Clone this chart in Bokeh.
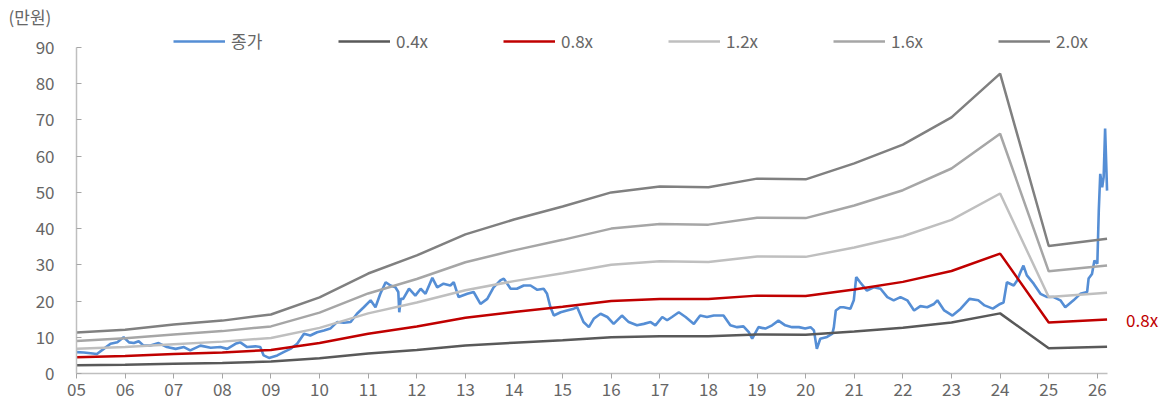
from bokeh.plotting import figure
from bokeh.models import Range1d, Legend, LegendItem, Label, FixedTicker
from bokeh.embed import file_html
from bokeh.resources import INLINE

# ---- data ----
band_years = [2005, 2006, 2007, 2008, 2009, 2010, 2011, 2012, 2013, 2014, 2015,
              2016, 2017, 2018, 2019, 2020, 2021, 2022, 2023, 2024, 2025, 2026.2]
band_04 = [2.3, 2.4, 2.7, 2.9, 3.3, 4.2, 5.5, 6.5, 7.7, 8.5, 9.2, 10.0, 10.3, 10.3, 10.8, 10.7, 11.6, 12.6, 14.1, 16.6, 7.0, 7.4]
band_08 = [4.5, 4.8, 5.4, 5.8, 6.5, 8.4, 11.0, 13.0, 15.4, 17.0, 18.4, 20.0, 20.6, 20.6, 21.5, 21.4, 23.2, 25.3, 28.3, 33.1, 14.1, 14.9]
band_12 = [6.8, 7.3, 8.1, 8.8, 9.8, 12.6, 16.6, 19.6, 23.0, 25.5, 27.7, 30.0, 31.0, 30.8, 32.3, 32.2, 34.8, 37.9, 42.4, 49.7, 21.1, 22.3]
band_16 = [9.0, 9.7, 10.8, 11.7, 13.0, 16.8, 22.1, 26.1, 30.7, 34.0, 36.9, 40.0, 41.3, 41.1, 43.0, 42.9, 46.4, 50.6, 56.6, 66.2, 28.2, 29.8]
band_20 = [11.3, 12.1, 13.5, 14.6, 16.3, 21.0, 27.6, 32.6, 38.4, 42.5, 46.1, 50.0, 51.6, 51.4, 53.8, 53.6, 58.0, 63.2, 70.7, 82.8, 35.2, 37.2]

price_t = [2005.00, 2005.15, 2005.29, 2005.42, 2005.56, 2005.70, 2005.84, 2005.97,
           2006.08, 2006.18, 2006.28, 2006.38, 2006.52, 2006.69, 2006.86,
           2007.04, 2007.21, 2007.34, 2007.55, 2007.76, 2007.96,
           2008.10, 2008.27, 2008.37, 2008.51, 2008.68, 2008.78, 2008.85, 2008.96,
           2009.13, 2009.26, 2009.40, 2009.54, 2009.68, 2009.81, 2009.95,
           2010.09, 2010.22, 2010.36, 2010.50, 2010.64, 2010.77, 2010.91,
           2011.05, 2011.15, 2011.25, 2011.36, 2011.46, 2011.56, 2011.62, 2011.64, 2011.67, 2011.72, 2011.84, 2011.97,
           2012.08, 2012.18, 2012.32, 2012.42, 2012.55, 2012.69, 2012.76, 2012.86,
           2013.04, 2013.17, 2013.31, 2013.45, 2013.58, 2013.72, 2013.79, 2013.93,
           2014.06, 2014.20, 2014.34, 2014.48, 2014.61, 2014.68, 2014.75, 2014.82, 2014.96,
           2015.09, 2015.23, 2015.30, 2015.43, 2015.54, 2015.64, 2015.78, 2015.92,
           2016.05, 2016.22, 2016.36, 2016.53, 2016.67, 2016.81, 2016.91,
           2017.05, 2017.15, 2017.25, 2017.39, 2017.53, 2017.70, 2017.83, 2017.97,
           2018.11, 2018.31, 2018.45, 2018.59, 2018.72, 2018.83, 2018.90,
           2019.03, 2019.17, 2019.31, 2019.44, 2019.58, 2019.72, 2019.86, 2019.99,
           2020.10, 2020.17, 2020.23, 2020.30, 2020.44, 2020.55, 2020.58, 2020.62, 2020.71, 2020.78, 2020.92, 2020.99,
           2021.04, 2021.12, 2021.26, 2021.40, 2021.54, 2021.68, 2021.81, 2021.95,
           2022.09, 2022.23, 2022.36, 2022.50, 2022.64, 2022.71, 2022.85,
           2023.02, 2023.19, 2023.37, 2023.55, 2023.68, 2023.85,
           2024.00, 2024.07, 2024.14, 2024.28, 2024.35, 2024.42, 2024.48, 2024.55, 2024.69, 2024.83, 2024.97,
           2025.10, 2025.24, 2025.34, 2025.51, 2025.65, 2025.79, 2025.82, 2025.89, 2025.94,
           2026.00, 2026.03, 2026.06, 2026.10, 2026.13, 2026.16, 2026.20]
price_v = [5.9, 5.8, 5.6, 5.4, 6.8, 8.2, 8.6, 10.0,
           8.6, 8.4, 8.9, 7.7, 7.7, 8.4, 7.3,
           6.8, 7.3, 6.4, 7.7, 7.1, 7.3,
           6.8, 8.2, 8.6, 7.3, 7.5, 7.3, 5.0, 4.3,
           5.0, 5.9, 6.8, 8.2, 11.0, 10.5, 11.4,
           11.9, 12.4, 14.2, 14.0, 14.2, 16.5, 18.3,
           20.2, 18.3, 22.0, 25.2, 24.3, 23.8, 22.5, 16.9, 20.6, 20.6, 23.4, 21.5,
           23.4, 22.0, 26.4, 23.8, 24.8, 24.3, 25.2, 21.1,
           22.0, 22.5, 19.2, 20.6, 23.8, 25.7, 26.2, 23.4,
           23.4, 24.3, 24.3, 23.1, 23.4, 22.0, 18.3, 16.0, 16.9,
           17.4, 17.9, 18.3, 14.2, 12.8, 15.1, 16.5, 15.6,
           13.7, 16.0, 14.2, 13.3, 13.7, 14.2, 13.3,
           15.6, 14.7, 15.6, 16.9, 15.6, 13.7, 16.0, 15.6,
           16.0, 16.0, 13.3, 12.8, 13.0, 11.4, 9.6,
           12.8, 12.4, 13.3, 14.6, 13.3, 12.8, 12.8, 12.4,
           12.8, 11.9, 6.8, 9.6, 10.1, 11.0, 12.8, 17.4, 18.3, 18.3, 17.9, 20.2,
           26.6, 25.2, 22.9, 23.8, 23.4, 21.1, 20.2, 21.1,
           20.2, 17.4, 18.6, 18.3, 19.2, 20.2, 17.4,
           16.0, 17.9, 20.6, 20.2, 18.8, 17.9,
           19.2, 19.6, 25.2, 24.3, 25.7, 28.0, 29.8, 27.1, 24.8, 22.0, 21.1,
           21.1, 20.2, 18.3, 20.2, 22.0, 22.5, 26.2, 27.5, 31.2,
           30.3, 45.0, 55.1, 51.4, 54.2, 67.6, 50.5]

x_ticks = list(range(2005, 2027))
x_tick_labels = ["05", "06", "07", "08", "09", "10", "11", "12", "13", "14", "15",
                 "16", "17", "18", "19", "20", "21", "22", "23", "24", "25", "26"]
y_ticks = [0, 10, 20, 30, 40, 50, 60, 70, 80, 90]
x_axis_end = 2026.21

FONT = "Noto Sans CJK KR"
TXT = "#666666"

p = figure(width=1161, height=403, output_backend="svg", toolbar_location=None,
           x_range=Range1d(2005, 2027.32), y_range=Range1d(0, 95.25),
           title="(만원)",
           min_border_left=76, min_border_right=0, min_border_top=28, min_border_bottom=30)
p.frame_width = 1085
p.frame_height = 345
p.outline_line_color = None
p.xgrid.visible = False
p.ygrid.visible = False
p.background_fill_color = "white"

p.title.text_font = FONT
p.title.text_font_size = "17px"
p.title.text_font_style = "normal"
p.title.text_color = TXT
p.title.align = "left"
p.title.offset = -68
p.title.standoff = 0

r_price = p.line(price_t, price_v, line_color="#558ed5", line_width=2.6)
r04 = p.line(band_years, band_04, line_color="#595959", line_width=2.5)
r08 = p.line(band_years, band_08, line_color="#c00000", line_width=2.5)
r12 = p.line(band_years, band_12, line_color="#bfbfbf", line_width=2.5)
r16 = p.line(band_years, band_16, line_color="#a6a6a6", line_width=2.5)
r20 = p.line(band_years, band_20, line_color="#808080", line_width=2.5)

# axes
xa = p.xaxis[0]
xa.ticker = FixedTicker(ticks=x_ticks)
xa.bounds = (2005, x_axis_end)
xa.major_label_overrides = {t: l for t, l in zip(x_ticks, x_tick_labels)}
xa.axis_line_color = "#bfbfbf"
xa.axis_line_width = 1.5
xa.major_tick_line_color = "#a6a6a6"
xa.major_tick_in = 0
xa.major_tick_out = 5
xa.minor_tick_line_color = None
xa.major_label_standoff = 4
xa.major_label_text_font = FONT
xa.major_label_text_font_size = "17px"
xa.major_label_text_color = TXT

ya = p.yaxis[0]
ya.ticker = FixedTicker(ticks=y_ticks)
ya.bounds = (0, 90)
ya.axis_line_color = "#bfbfbf"
ya.axis_line_width = 1.5
ya.major_tick_line_color = "#a6a6a6"
ya.major_tick_in = 5
ya.major_tick_out = 0
ya.minor_tick_line_color = None
ya.major_label_standoff = 22
ya.major_label_text_font = FONT
ya.major_label_text_font_size = "17px"
ya.major_label_text_color = TXT

legend = Legend(items=[
    LegendItem(label="종가", renderers=[r_price]),
    LegendItem(label="0.4x", renderers=[r04]),
    LegendItem(label="0.8x", renderers=[r08]),
    LegendItem(label="1.2x", renderers=[r12]),
    LegendItem(label="1.6x", renderers=[r16]),
    LegendItem(label="2.0x", renderers=[r20]),
], orientation="horizontal", location=(97, 320))
legend.background_fill_alpha = 0
legend.border_line_color = None
legend.padding = 0
legend.margin = 0
legend.spacing = 0
legend.glyph_width = 52
legend.glyph_height = 24
legend.label_width = 107
legend.label_height = 24
legend.label_standoff = 6
legend.label_text_font = FONT
legend.label_text_font_size = "17px"
legend.label_text_color = TXT
legend.click_policy = "none"
p.add_layout(legend, "center")

lab08 = Label(x=band_years[-1], y=band_08[-1], x_offset=19, text="0.8x",
              text_font=FONT, text_font_size="17px", text_color="#c00000",
              text_baseline="middle", text_align="left")
p.add_layout(lab08)

open("out.html", "w").write(file_html(p, INLINE))
